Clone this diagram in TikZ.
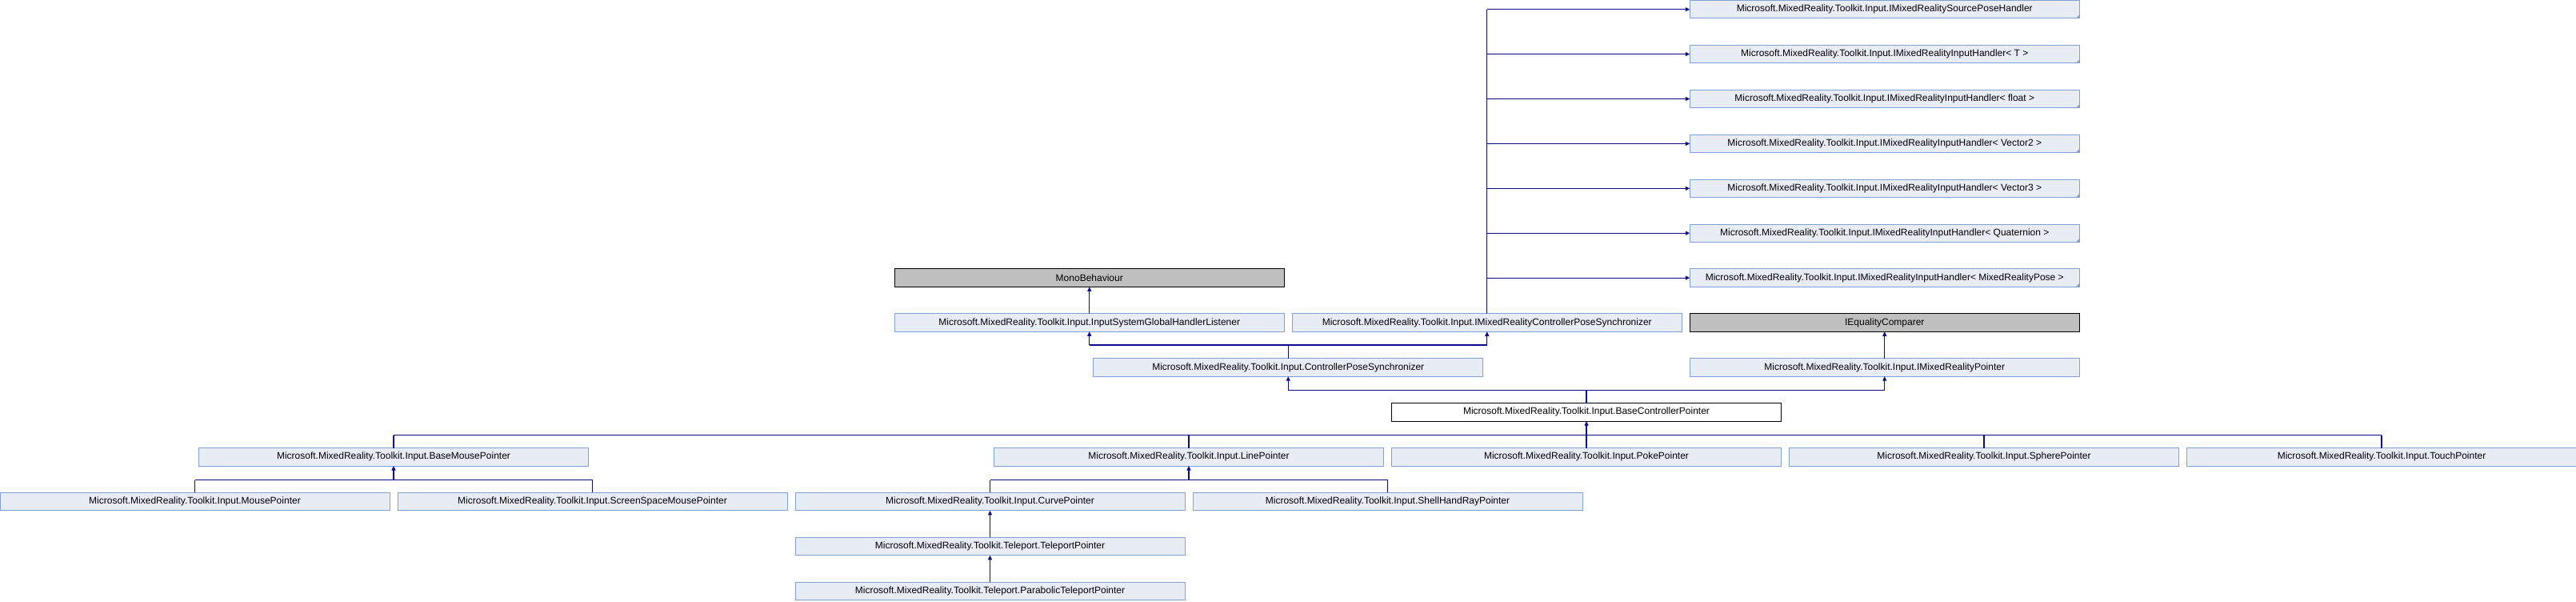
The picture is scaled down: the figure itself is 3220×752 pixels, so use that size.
\documentclass[tikz,border=0pt]{standalone}
\usepackage{fontspec}
\setmainfont{Liberation Sans}
\usetikzlibrary{arrows.meta,calc}
\definecolor{boxfill}{RGB}{232,236,245}
\definecolor{boxline}{RGB}{128,160,216}
\definecolor{grayfill}{RGB}{191,191,191}
\definecolor{conncol}{RGB}{10,10,140}
\tikzset{
  cls/.style={draw=boxline, fill=boxfill, line width=1pt, minimum width=487pt, minimum height=22.5pt, inner sep=0pt, outer sep=0pt, font=\fontsize{12}{14}\selectfont},
  ext/.style={draw=black, fill=grayfill, line width=1pt, minimum width=487pt, minimum height=22.5pt, inner sep=0pt, outer sep=0pt, font=\fontsize{12}{14}\selectfont},
  self/.style={draw=black, fill=white, line width=1pt, minimum width=487pt, minimum height=22.5pt, inner sep=0pt, outer sep=0pt, font=\fontsize{12}{14}\selectfont},
  conn/.style={draw=conncol, line width=1.1pt},
  arr/.style={conn, -{Triangle[width=5pt,length=5.5pt]}},
  corner/.style={fill=boxline}
}
\begin{document}
\begin{tikzpicture}[x=1pt,y=-1pt]
\useasboundingbox (0,0) rectangle (3220,752);
% row 0..6 handlers
\node[cls] (h0) at (2355.75,11.75) {Microsoft.MixedReality.Toolkit.Input.IMixedRealitySourcePoseHandler};
\node[cls] (h1) at (2355.75,67.65) {Microsoft.MixedReality.Toolkit.Input.IMixedRealityInputHandler< T >};
\node[cls] (h2) at (2355.75,123.55) {Microsoft.MixedReality.Toolkit.Input.IMixedRealityInputHandler< float >};
\node[cls] (h3) at (2355.75,179.45) {Microsoft.MixedReality.Toolkit.Input.IMixedRealityInputHandler< Vector2 >};
\node[cls] (h4) at (2355.75,235.35) {Microsoft.MixedReality.Toolkit.Input.IMixedRealityInputHandler< Vector3 >};
\node[cls] (h5) at (2355.75,291.25) {Microsoft.MixedReality.Toolkit.Input.IMixedRealityInputHandler< Quaternion >};
\node[cls] (h6) at (2355.75,347.15) {Microsoft.MixedReality.Toolkit.Input.IMixedRealityInputHandler< MixedRealityPose >};
\node[ext] (mono) at (1361.75,347.15) {MonoBehaviour};
% row 7
\node[cls] (listener) at (1361.75,403.05) {Microsoft.MixedReality.Toolkit.Input.InputSystemGlobalHandlerListener};
\node[cls] (imrcps) at (1858.75,403.05) {Microsoft.MixedReality.Toolkit.Input.IMixedRealityControllerPoseSynchronizer};
\node[ext] (ieq) at (2355.75,403.05) {IEqualityComparer};
% row 8
\node[cls] (cps) at (1610.25,458.95) {Microsoft.MixedReality.Toolkit.Input.ControllerPoseSynchronizer};
\node[cls] (imrp) at (2355.75,458.95) {Microsoft.MixedReality.Toolkit.Input.IMixedRealityPointer};
% row 9
\node[self] (bcp) at (1983,514.85) {Microsoft.MixedReality.Toolkit.Input.BaseControllerPointer};
% row 10
\node[cls] (bmp) at (492,570.75) {Microsoft.MixedReality.Toolkit.Input.BaseMousePointer};
\node[cls] (line) at (1486,570.75) {Microsoft.MixedReality.Toolkit.Input.LinePointer};
\node[cls] (poke) at (1983,570.75) {Microsoft.MixedReality.Toolkit.Input.PokePointer};
\node[cls] (sphere) at (2480,570.75) {Microsoft.MixedReality.Toolkit.Input.SpherePointer};
\node[cls] (touch) at (2977,570.75) {Microsoft.MixedReality.Toolkit.Input.TouchPointer};
% row 11
\node[cls] (mouse) at (243.5,626.65) {Microsoft.MixedReality.Toolkit.Input.MousePointer};
\node[cls] (ssmouse) at (740.5,626.65) {Microsoft.MixedReality.Toolkit.Input.ScreenSpaceMousePointer};
\node[cls] (curve) at (1237.5,626.65) {Microsoft.MixedReality.Toolkit.Input.CurvePointer};
\node[cls] (shell) at (1734.5,626.65) {Microsoft.MixedReality.Toolkit.Input.ShellHandRayPointer};
% row 12, 13
\node[cls] (tele) at (1237.5,682.55) {Microsoft.MixedReality.Toolkit.Teleport.TeleportPointer};
\node[cls] (para) at (1237.5,738.45) {Microsoft.MixedReality.Toolkit.Teleport.ParabolicTeleportPointer};
% corner marks
\foreach \n in {h0,h1,h2,h3,h4,h5,h6}{
  \fill[corner] ($(\n.south east)+(-4.5,0)$) -- (\n.south east) -- ($(\n.south east)+(0,-4.5)$) -- cycle;
}
% bus coordinates
\coordinate (b7) at (0,431);
\coordinate (b8) at (0,487.5);
\coordinate (b9) at (0,543.5);
\coordinate (b10) at (0,599.5);
% IMRCPS -> handlers
\draw[conn] (imrcps.north) -- (imrcps.north |- h0.west);
\foreach \n in {h0,h1,h2,h3,h4,h5,h6}{
  \draw[arr] (imrcps.north |- \n.west) -- (\n.west);
}
% listener -> mono
\draw[arr] (listener.north) -- (mono.south);
% cps -> listener, imrcps
\draw[conn] (cps.north) -- (cps.north |- b7);
\draw[conn] (listener.south |- b7) -- (imrcps.south |- b7);
\draw[arr] (listener.south |- b7) -- (listener.south);
\draw[arr] (imrcps.south |- b7) -- (imrcps.south);
% imrp -> ieq
\draw[arr] (imrp.north) -- (ieq.south);
% bcp -> cps, imrp
\draw[conn] (bcp.north) -- (bcp.north |- b8);
\draw[conn] (cps.south |- b8) -- (imrp.south |- b8);
\draw[arr] (cps.south |- b8) -- (cps.south);
\draw[arr] (imrp.south |- b8) -- (imrp.south);
% row 10 -> bcp
\draw[conn] (bmp.north |- b9) -- (touch.north |- b9);
\foreach \n in {bmp,line,sphere,touch}{
  \draw[conn] (\n.north) -- (\n.north |- b9);
}
\draw[conn] (poke.north) -- (poke.north |- b9);
\draw[arr] (bcp.south |- b9) -- (bcp.south);
% row 11 -> bmp
\draw[conn] (mouse.north |- b10) -- (ssmouse.north |- b10);
\draw[conn] (mouse.north) -- (mouse.north |- b10);
\draw[conn] (ssmouse.north) -- (ssmouse.north |- b10);
\draw[arr] (bmp.south |- b10) -- (bmp.south);
% row 11 -> line
\draw[conn] (curve.north |- b10) -- (shell.north |- b10);
\draw[conn] (curve.north) -- (curve.north |- b10);
\draw[conn] (shell.north) -- (shell.north |- b10);
\draw[arr] (line.south |- b10) -- (line.south);
% teleport chain
\draw[arr] (tele.north) -- (curve.south);
\draw[arr] (para.north) -- (tele.south);
\end{tikzpicture}
\end{document}
